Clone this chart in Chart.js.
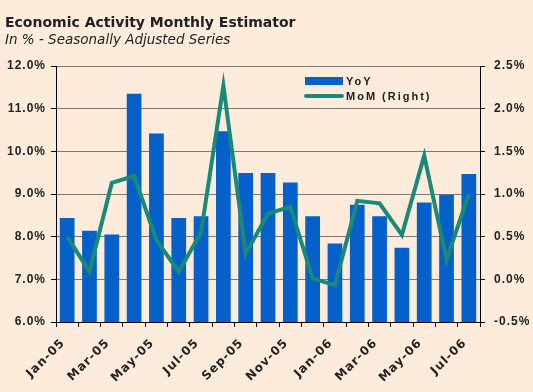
<!DOCTYPE html>
<html>
<head>
<meta charset="utf-8">
<script src="https://cdn.jsdelivr.net/npm/chart.js@4.4.1/dist/chart.umd.min.js"></script>
<style>
    html, body { margin: 0; padding: 0; background: #fdecdc; }
    #wrap { width: 533px; height: 392px; position: relative; }
</style>
</head>
<body>
<div id="wrap"><canvas id="chart" width="533" height="392"></canvas></div>
<script>
// Chart data
const months = ['Jan-05', 'Feb-05', 'Mar-05', 'Apr-05', 'May-05', 'Jun-05', 'Jul-05', 'Aug-05', 'Sep-05', 'Oct-05',
                'Nov-05', 'Dec-05', 'Jan-06', 'Feb-06', 'Mar-06', 'Apr-06', 'May-06', 'Jun-06', 'Jul-06'];
const yoyValues = [8.44, 8.14, 8.05, 11.35, 10.42, 8.44, 8.48, 10.47, 9.49, 9.49,
                   9.27, 8.48, 7.84, 8.75, 8.48, 7.74, 8.80, 8.98, 9.47];
const momValues = [0.50, 0.09, 1.13, 1.21, 0.46, 0.09, 0.55, 2.27, 0.30, 0.77,
                   0.85, 0.01, -0.07, 0.92, 0.89, 0.52, 1.45, 0.23, 1.00];
const yoyAxis = { min: 6, max: 12, step: 1 };
const momAxis = { min: -0.5, max: 2.5, step: 0.5 };

const titleText = 'Economic Activity Monthly Estimator';
const subtitleText = 'In % - Seasonally Adjusted Series';

const BAR_COLOR = '#0560c9';
const LINE_COLOR = '#1a8a78';
const TEXT_COLOR = '#222222';

// Spaced-out lettering like the original
const letterSpacing = {
    id: 'letterSpacing',
    beforeLayout(chart) { chart.ctx.letterSpacing = '1px'; },
    beforeDraw(chart) { chart.ctx.letterSpacing = '1px'; }
};

// Title, subtitle and the legend inside the plot
const decorations = {
    id: 'decorations',
    afterDraw(chart) {
        const ctx = chart.ctx;
        ctx.save();
        ctx.letterSpacing = '0px';
        ctx.fillStyle = TEXT_COLOR;
        ctx.textAlign = 'left';
        ctx.textBaseline = 'alphabetic';
        ctx.font = 'bold 14px "DejaVu Sans"';
        ctx.fillText(titleText, 5, 27);
        ctx.font = 'italic 13.5px "DejaVu Sans"';
        ctx.fillText(subtitleText, 5, 44);

        // legend
        ctx.fillStyle = BAR_COLOR;
        ctx.fillRect(305, 77, 38, 8);
        ctx.strokeStyle = LINE_COLOR;
        ctx.lineWidth = 4;
        ctx.lineCap = 'round';
        ctx.beginPath();
        ctx.moveTo(306, 96);
        ctx.lineTo(342, 96);
        ctx.stroke();
        ctx.fillStyle = TEXT_COLOR;
        ctx.letterSpacing = '2px';
        ctx.font = 'bold 11px "Liberation Sans"';
        ctx.fillText(chart.data.datasets[0].label, 346, 85);
        ctx.fillText(chart.data.datasets[1].label, 346, 100);
        ctx.restore();
    }
};

const ctx = document.getElementById('chart').getContext('2d');
new Chart(ctx, {
    type: 'bar',
    data: {
        labels: months,
        datasets: [
            {
                label: 'YoY',
                data: yoyValues,
                backgroundColor: BAR_COLOR,
                borderWidth: 0,
                categoryPercentage: 1,
                barPercentage: 0.66,
                yAxisID: 'y',
                order: 2
            },
            {
                type: 'line',
                label: 'MoM (Right)',
                data: momValues,
                borderColor: LINE_COLOR,
                borderWidth: 4,
                pointRadius: 0,
                tension: 0,
                yAxisID: 'y1',
                order: 1
            }
        ]
    },
    options: {
        responsive: false,
        animation: false,
        layout: {
            padding: { top: 66, right: 0, bottom: 0, left: 0 }
        },
        plugins: {
            legend: { display: false },
            tooltip: { enabled: false },
            title: { display: false }
        },
        scales: {
            x: {
                offset: true,
                border: { color: '#000', width: 1 },
                grid: {
                    offset: true,
                    drawOnChartArea: false,
                    drawTicks: true,
                    tickLength: 5,
                    tickColor: '#000'
                },
                ticks: {
                    autoSkip: false,
                    maxRotation: 45,
                    minRotation: 45,
                    padding: 9,
                    labelOffset: -4,
                    color: TEXT_COLOR,
                    font: { family: 'DejaVu Sans', size: 12, weight: 'bold' },
                    callback: function(value, index) {
                        return index % 2 === 0 ? months[index] : '';
                    }
                },
                afterFit(scale) { scale.height = 70; }
            },
            y: {
                position: 'left',
                min: yoyAxis.min,
                max: yoyAxis.max,
                border: { color: '#000', width: 1 },
                grid: {
                    color: '#7a7a7a',
                    lineWidth: 1,
                    tickLength: 5,
                    tickColor: '#000',
                    borderDash: [11, 6]
                },
                ticks: {
                    stepSize: yoyAxis.step,
                    padding: 5,
                    color: TEXT_COLOR,
                    font: { family: 'Liberation Sans', size: 12, weight: 'bold' },
                    callback: function(value) {
                        return value.toFixed(1) + '%';
                    }
                },
                afterFit(scale) { scale.width = 56; }
            },
            y1: {
                position: 'right',
                min: momAxis.min,
                max: momAxis.max,
                border: { color: '#000', width: 1 },
                grid: {
                    drawOnChartArea: false,
                    tickLength: 5,
                    tickColor: '#000'
                },
                ticks: {
                    stepSize: momAxis.step,
                    padding: 9,
                    color: TEXT_COLOR,
                    font: { family: 'Liberation Sans', size: 12, weight: 'bold' },
                    callback: function(value) {
                        return value.toFixed(1) + '%';
                    }
                },
                afterFit(scale) { scale.width = 53; }
            }
        }
    },
    plugins: [letterSpacing, decorations]
});
</script>
</body>
</html>
